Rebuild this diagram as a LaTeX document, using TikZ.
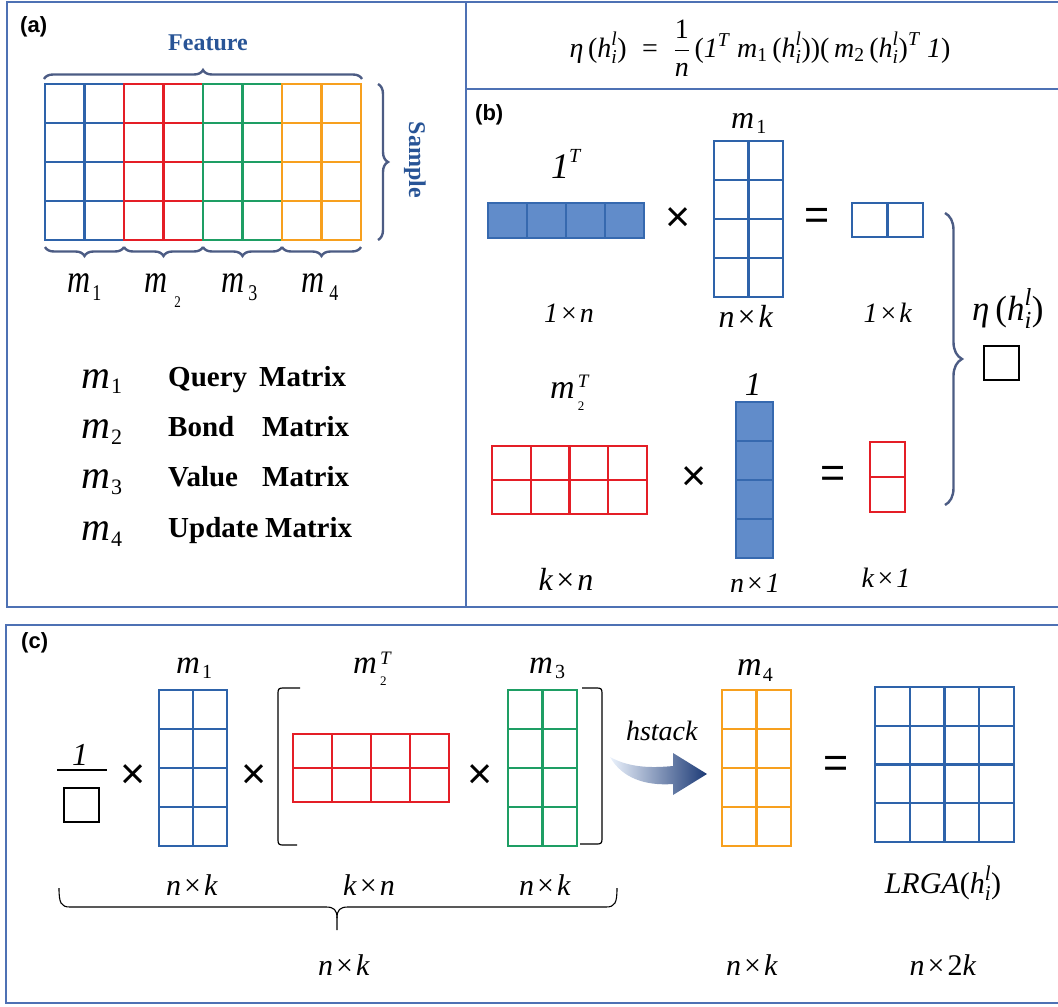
\RequirePackage{fix-cm}
\documentclass[tikz,border=0pt]{standalone}
\usepackage{amsmath}
\usepackage{fontspec}
\setmainfont{Liberation Serif}
\newfontfamily\arialf{Liberation Sans}
\usetikzlibrary{decorations.pathreplacing}

\definecolor{gblue}{RGB}{46,99,170}
\definecolor{gred}{RGB}{228,30,38}
\definecolor{ggreen}{RGB}{30,158,100}
\definecolor{gorange}{RGB}{247,160,30}
\definecolor{fblue}{RGB}{97,140,202}
\definecolor{slate}{RGB}{76,92,132}
\definecolor{tblue}{RGB}{40,84,150}
\definecolor{pblue}{RGB}{78,113,180}
\definecolor{adark}{RGB}{28,58,118}
\definecolor{alight}{RGB}{235,242,252}

\newcommand\fsz[1]{\fontsize{#1}{#1}\selectfont}
\newcommand\ti[1]{\textit{#1}}
\newcommand\tu[1]{\textup{#1}}
\newcommand\msub[3]{\raisebox{-#2}{\fsz{#1}#3}}
\newcommand\hh{\ti{h}_{\ti{i}}^{\ti{l}}}
\newcommand\bytimes[2]{#1\kern3pt×\kern3pt#2}
\newcommand\mtwoT[4]{\ti{m}\kern3pt\rlap{\raisebox{#2}{\fsz{#1}\ti{T}}}\raisebox{-#4}{\fsz{#3}2}}

\newcommand\mgrid[7]{%
  \draw[#1] (#2,#3) rectangle (#4,#5);
  \ifnum#6>1\relax
    \pgfmathtruncatemacro\gcols{#6-1}%
    \foreach \ii in {1,...,\gcols}{\draw[#1] ({#2+(#4-#2)*\ii/#6},#3) -- ({#2+(#4-#2)*\ii/#6},#5);}%
  \fi
  \ifnum#7>1\relax
    \pgfmathtruncatemacro\grows{#7-1}%
    \foreach \jj in {1,...,\grows}{\draw[#1] (#2,{#3+(#5-#3)*\jj/#7}) -- (#4,{#3+(#5-#3)*\jj/#7});}%
  \fi}

\tikzset{
  panel/.style={draw=pblue, line width=2pt},
  gb/.style={draw=gblue, line width=2.2pt},
  gr/.style={draw=gred, line width=2.2pt},
  gg/.style={draw=ggreen, line width=2.2pt},
  go/.style={draw=gorange, line width=2.2pt},
  gf/.style={draw=gblue!85!fblue, fill=fblue, line width=2pt},
  brc/.style={decorate, decoration={brace, amplitude=#1}, draw=slate, line width=2.4pt},
  plabel/.style={font=\arialf\bfseries\fsz{22}, anchor=west},
  op/.style={font=\arialf\fsz{43}},
  blk/.style={draw=black, line width=1.6pt, minimum width=35pt, minimum height=34pt},
  bword/.style={font=\bfseries\fsz{29}, anchor=base west},
  dimlbl/.style={anchor=base},
  mlbl/.style={anchor=base west}
}

\begin{document}
\begin{tikzpicture}[x=1pt,y=-1pt, every node/.style={inner sep=0pt}]
\useasboundingbox (0,0) rectangle (1058,1007);

% ---------------- panel frames
\draw[panel] (7,1.5) rectangle (1064,607);
\draw[panel] (466,1.5) -- (466,607);
\draw[panel] (466,89) -- (1064,89);
\draw[panel] (6,625) rectangle (1064,1003);

% ---------------- panel (a)
\node[plabel] (la) at (20,27) {(a)};
\node[anchor=base, font=\bfseries\fsz{24}, text=tblue] (feat) at (208,50) {Feature};
\node[font=\bfseries\fsz{24}, text=tblue, rotate=-90] (samp) at (415,160) {Sample};

\mgrid{gb}{45}{84}{124}{240}{2}{4}
\mgrid{gr}{124}{84}{203}{240}{2}{4}
\mgrid{gg}{203}{84}{282}{240}{2}{4}
\mgrid{go}{282}{84}{361}{240}{2}{4}

\draw[brc=9] (44,79) -- (362,79);
\draw[brc=10] (378,84) -- (378,240);
\draw[brc=9] (124,247) -- (45,247);
\draw[brc=9] (203,247) -- (124,247);
\draw[brc=9] (282,247) -- (203,247);
\draw[brc=9] (361,247) -- (282,247);

\node[mlbl, font=\fsz{32}] (am1) at (67,292) {\scalebox{1}[1.25]{\ti{m}\kern2pt\msub{18}{7pt}{1}}};
\node[mlbl, font=\fsz{32}] (am2) at (144,292) {\scalebox{1}[1.25]{\ti{m}\kern7pt\msub{13}{12pt}{2}}};
\node[mlbl, font=\fsz{32}] (am3) at (221,292) {\scalebox{1}[1.25]{\ti{m}\kern4pt\msub{18}{7pt}{3}}};
\node[mlbl, font=\fsz{32}] (am4) at (301,292) {\scalebox{1}[1.25]{\ti{m}\kern5pt\msub{18}{7pt}{4}}};

\node[mlbl, font=\fsz{40}] (lm1) at (81,388) {\ti{m}\kern1pt\msub{22}{5pt}{1}};
\node[mlbl, font=\fsz{40}] (lm2) at (81,438) {\ti{m}\kern1pt\msub{22}{6pt}{2}};
\node[mlbl, font=\fsz{40}] (lm3) at (81,488) {\ti{m}\kern1pt\msub{22}{6pt}{3}};
\node[mlbl, font=\fsz{40}] (lm4) at (81,540) {\ti{m}\kern1pt\msub{22}{6pt}{4}};
\node[bword] (q1) at (168,386) {Query};
\node[bword] (q2) at (259,386) {Matrix};
\node[bword] (b1) at (168,436) {Bond};
\node[bword] (b2) at (262,436) {Matrix};
\node[bword] (v1) at (168,486) {Value};
\node[bword] (v2) at (262,486) {Matrix};
\node[bword] (u1) at (168,537) {Update};
\node[bword] (u2) at (265,537) {Matrix};

% ---------------- formula
\node[anchor=base, font=\fsz{28}] (formula) at (760,57)
 {$\ti{η}\,\tu{(}\hh\tu{)}\;\mathrel{\tu{=}}\;\dfrac{\tu{1}}{\ti{n}}\,\tu{(}\ti{1}^{\ti{T}}\;\ti{m}_{\tu{1}}\,\tu{(}\hh\tu{))(}\,\ti{m}_{\tu{2}}\,\tu{(}\hh\tu{)}^{\ti{T}}\;\ti{1}\tu{)}$};

% ---------------- panel (b)
\node[plabel] (lb) at (475,115) {(b)};
\node[mlbl, font=\fsz{36}] (oneT) at (551,178) {\ti{1}\raisebox{16pt}{\fsz{20}\ti{T}}};
\mgrid{gf}{488}{203}{644}{238}{4}{1}
\node[op] (x1) at (678,220) {×};
\node[mlbl, font=\fsz{32}] (bm1) at (731,128) {\ti{m}\kern2pt\msub{20}{5pt}{1}};
\mgrid{gb}{714}{141}{783}{297}{2}{4}
\node[op] (e1) at (817,219) {=};
\mgrid{gb}{852}{203}{923}{237}{2}{1}
\node[dimlbl, font=\fsz{28}] (d1) at (569,322) {\bytimes{\ti{1}}{\ti{n}}};
\node[dimlbl, font=\fsz{32}] (d2) at (746,327) {\bytimes{\ti{n}}{\ti{k}}};
\node[dimlbl, font=\fsz{28}] (d3) at (888,322) {\bytimes{\ti{1}}{\ti{k}}};

\node[mlbl, font=\fsz{34}] (bm2) at (550,398) {\mtwoT{19}{11pt}{13}{12pt}};
\mgrid{gr}{492}{446}{647}{514}{4}{2}
\node[op] (x2) at (694,479) {×};
\node[anchor=base, font=\fsz{33}] (one) at (753,395) {\ti{1}};
\mgrid{gf}{736}{402}{773}{558}{1}{4}
\node[op] (e2) at (833,477) {=};
\mgrid{gr}{870}{442}{905}{512}{1}{2}
\node[dimlbl, font=\fsz{32}] (d4) at (566,590) {\bytimes{\ti{k}}{\ti{n}}};
\node[dimlbl, font=\fsz{28}] (d5) at (755,592) {\bytimes{\ti{n}}{\ti{1}}};
\node[dimlbl, font=\fsz{28}] (d6) at (886,587) {\bytimes{\ti{k}}{\ti{1}}};

\draw[brc=17] (945,213) -- (945,505);
\node[mlbl, font=\fsz{35}] (eta) at (972,320) {$\ti{η}\,\tu{(}\hh\tu{)}$};
\node[blk] (sqb) at (1001.5,363) {};

% ---------------- panel (c)
\node[plabel] (lc) at (21,643) {(c)};
\node[anchor=base, font=\fsz{32}] (cone) at (80,765) {\ti{1}};
\draw[line width=2pt] (57,770) -- (107,770);
\node[blk] (sqc) at (81.5,805) {};
\node[op] (x3) at (133,777) {×};
\node[mlbl, font=\fsz{33}] (cm1) at (176,673) {\ti{m}\kern2pt\msub{20}{5pt}{1}};
\mgrid{gb}{159}{690}{227}{846}{2}{4}
\node[op] (x4) at (254,777) {×};
\draw[line width=1.2pt] (300,688) -- (283,688) .. controls (279,688) and (278,689) .. (278,693) -- (278,840) .. controls (278,844) and (279,845) .. (283,845) -- (297,845);
\node[mlbl, font=\fsz{33}] (cm2) at (353,673) {\mtwoT{19}{9pt}{13}{12pt}};
\mgrid{gr}{293}{734}{449}{802}{4}{2}
\node[op] (x5) at (480,777) {×};
\node[mlbl, font=\fsz{33}] (cm3) at (529,673) {\ti{m}\kern2pt\msub{20}{5pt}{3}};
\mgrid{gg}{508}{690}{577}{846}{2}{4}
\draw[line width=1.2pt] (582,688) -- (597,688) .. controls (601,688) and (602,689) .. (602,693) -- (602,839) .. controls (602,843) and (601,844) .. (597,844) -- (580,844);

\node[anchor=base, font=\fsz{28}] (hst) at (662,740) {\ti{hstack}};
\shade[left color=alight, right color=adark] (610,757) .. controls (630,768) and (652,768) .. (673,766) -- (673,753) -- (707,774) -- (673,795) -- (673,784) .. controls (645,786) and (622,778) .. (610,757) -- cycle;

\node[mlbl, font=\fsz{34}] (cm4) at (737,675) {\ti{m}\kern1pt\msub{20}{6pt}{4}};
\mgrid{go}{722}{690}{791}{846}{2}{4}
\node[op] (e3) at (836,767) {=};
\mgrid{gb}{875}{687}{1014}{842}{4}{4}

\node[dimlbl, font=\fsz{30}] (c1) at (192,895) {\bytimes{\ti{n}}{\ti{k}}};
\node[dimlbl, font=\fsz{30}] (c2) at (369,895) {\bytimes{\ti{k}}{\ti{n}}};
\node[dimlbl, font=\fsz{30}] (c3) at (545,895) {\bytimes{\ti{n}}{\ti{k}}};
\node[dimlbl, font=\fsz{30}] (c4) at (943,893) {\ti{LRGA}\tu{(}$\hh$\tu{)}};

\draw[line width=1.1pt] (59,888) .. controls (59,903) and (61,907) .. (70,907) -- (326,907) .. controls (334,907) and (337,910) .. (337,918) -- (337,930);
\draw[line width=1.1pt] (337,918) .. controls (337,910) and (340,907) .. (348,907) -- (606,907) .. controls (615,907) and (617,903) .. (617,888);

\node[dimlbl, font=\fsz{30}] (c5) at (344,975) {\bytimes{\ti{n}}{\ti{k}}};
\node[dimlbl, font=\fsz{30}] (c6) at (752,975) {\bytimes{\ti{n}}{\ti{k}}};
\node[dimlbl, font=\fsz{30}] (c7) at (943,975) {\bytimes{\ti{n}}{\tu{2}\ti{k}}};
\end{tikzpicture}
\end{document}
